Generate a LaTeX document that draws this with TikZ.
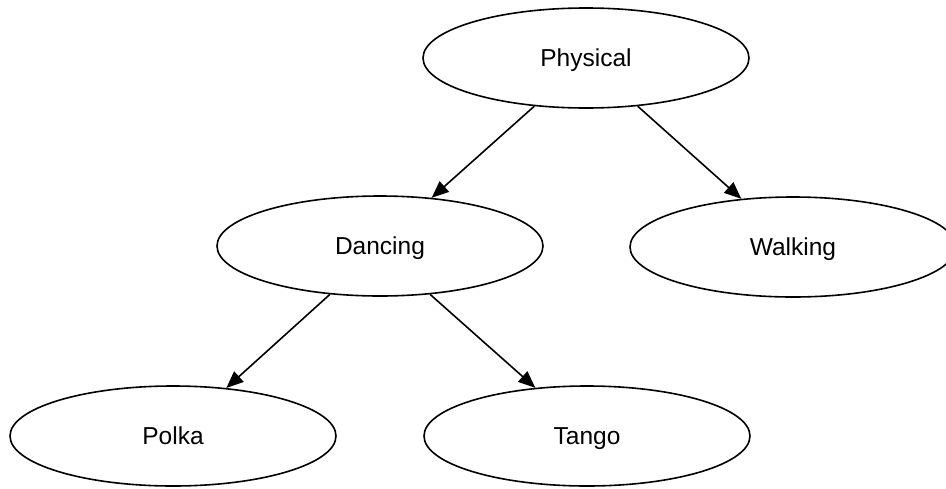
\documentclass[tikz,border=0pt]{standalone}
\usepackage{fontspec}
\setmainfont{Liberation Sans}
\usetikzlibrary{shapes.geometric,arrows.meta}
\begin{document}
\begin{tikzpicture}[x=1pt,y=-1pt,
  oval/.style={ellipse,draw,line width=1.6pt,minimum width=326pt,minimum height=100pt,inner sep=0pt,text height=17.5pt,text depth=0pt,font=\fontsize{24.5}{28}\selectfont},
  link/.style={line width=1.6pt,-{Triangle[length=17pt,width=14pt]}}]
\useasboundingbox (0,0) rectangle (946,488);
\clip (0,0) rectangle (946,488);
\node[oval] (phys) at (586,58) {Physical};
\node[oval] (danc) at (380,246) {Dancing};
\node[oval] (walk) at (793,247) {Walking};
\node[oval] (polka) at (173,436) {Polka};
\node[oval] (tango) at (587,436) {Tango};
\draw[link] (phys.223) -- (danc.43);
\draw[link] (phys.317) -- (walk.137);
\draw[link] (danc.224) -- (polka.42);
\draw[link] (danc.316) -- (tango.137);
\end{tikzpicture}
\end{document}
